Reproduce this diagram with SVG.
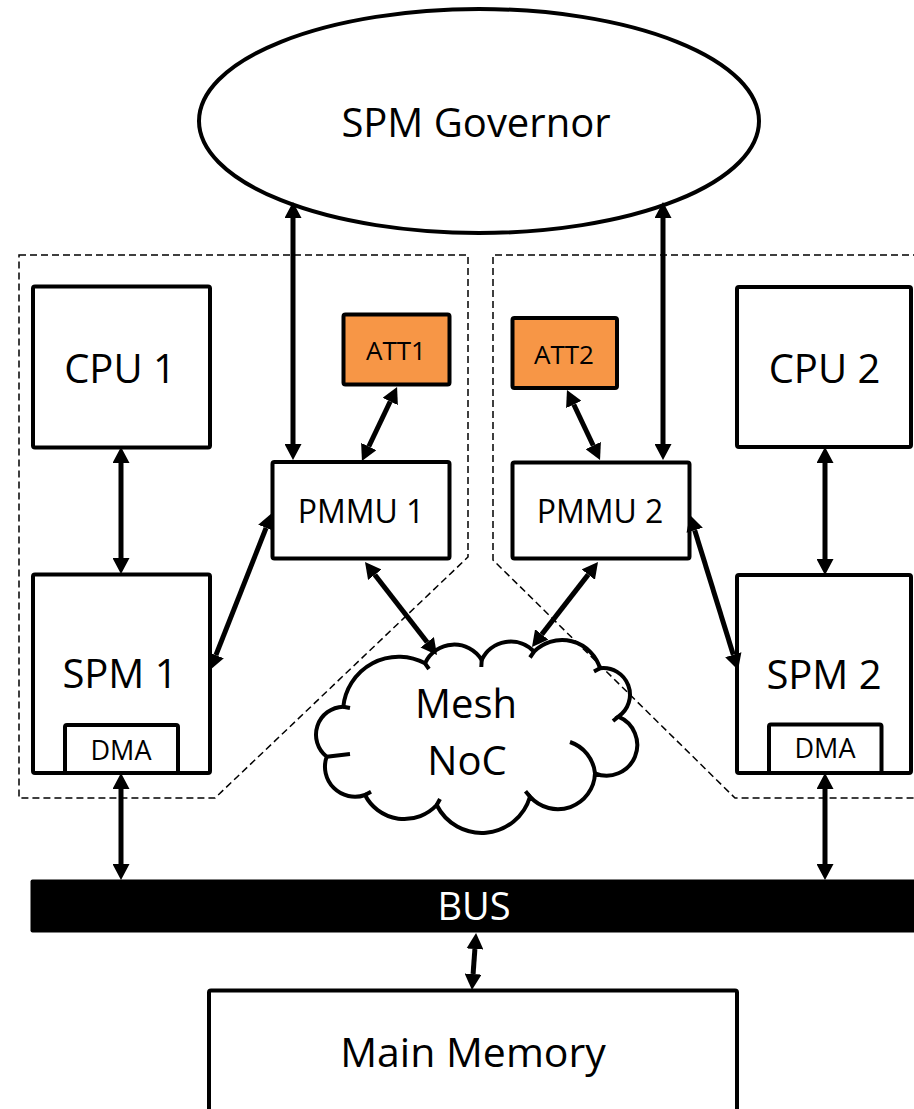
<svg xmlns="http://www.w3.org/2000/svg" width="914" height="1109" viewBox="0 0 914 1109">
<style>
.box{fill:#fff;stroke:#000;stroke-width:4;stroke-linejoin:round}
.att{fill:#F79646;stroke:#000;stroke-width:4;stroke-linejoin:round}
.dash{fill:none;stroke:#000;stroke-width:1.5;stroke-dasharray:7 4}
.t{font-family:"Open Sans","Liberation Sans",sans-serif;text-anchor:middle;fill:#000}
.arr{stroke:#000;stroke-width:5;fill:none;marker-start:url(#ah);marker-end:url(#ah)}
.cl{fill:none;stroke:#000;stroke-width:4;stroke-linecap:butt}
</style>
<defs>
<marker id="ah" viewBox="0 -8.5 16 17" refX="0" refY="0" markerWidth="16" markerHeight="17" markerUnits="userSpaceOnUse" orient="auto-start-reverse">
<path d="M0,-8.5 L16,0 L0,8.5 z" fill="#000"/>
</marker>
</defs>
<rect width="914" height="1109" fill="#fff"/>
<g id="regions">
<path class="dash" d="M19,255 L468,255 L468,557 L215,798 L19,798 Z"/>
<path class="dash" d="M920,255 L493,255 L493,560 L735,798 L920,798"/>
</g>
<g id="governor">
<ellipse cx="479" cy="121" rx="280" ry="112" fill="#fff" stroke="#000" stroke-width="4"/>
<text class="t" x="476" y="137" font-size="40">SPM Governor</text>
</g>
<g id="cpu1"><rect class="box" x="33" y="286.5" width="177" height="161" rx="2"/><text class="t" x="120" y="383" font-size="40">CPU 1</text></g>
<g id="cpu2"><rect class="box" x="737" y="287" width="174" height="160" rx="2"/><text class="t" x="824.5" y="383" font-size="40">CPU 2</text></g>
<g id="att1"><rect class="att" x="343.5" y="314.5" width="106" height="70" rx="2"/><text class="t" x="396" y="360" font-size="26">ATT1</text></g>
<g id="att2"><rect class="att" x="512.5" y="318" width="104.5" height="70" rx="2"/><text class="t" x="564" y="364" font-size="26">ATT2</text></g>
<g id="pmmu1"><rect class="box" x="272.5" y="462" width="177" height="96.5" rx="2"/><text class="t" x="361" y="523" font-size="32">PMMU 1</text></g>
<g id="pmmu2"><rect class="box" x="512.5" y="462.5" width="177" height="96" rx="2"/><text class="t" x="600" y="523" font-size="32">PMMU 2</text></g>
<g id="spm1"><rect class="box" x="33" y="574.5" width="177" height="198.5" rx="2"/><text class="t" x="120" y="688" font-size="40">SPM 1</text></g>
<g id="dma1"><rect class="box" x="65" y="725" width="113" height="48" rx="2"/><text class="t" x="121" y="760" font-size="27">DMA</text></g>
<g id="spm2"><rect class="box" x="737" y="575" width="174" height="198" rx="2"/><text class="t" x="824" y="689" font-size="40">SPM 2</text></g>
<g id="dma2"><rect class="box" x="769" y="724.5" width="112.5" height="48.5" rx="2"/><text class="t" x="825" y="758" font-size="27">DMA</text></g>
<g id="noc">
<path class="cl" d="M343.3,706.7 A55.7,55.7 0 0 1 425,663.3 A32.2,32.2 0 0 1 481.7,660 A32,32 0 0 1 534,651.7 A39.6,39.6 0 0 1 600,668.3 A26.6,26.6 0 0 1 618.3,716.7 A30.6,30.6 0 0 1 595,773.3 A37.2,37.2 0 0 1 530,796.7 A50.3,50.3 0 0 1 436.7,805 A44.2,44.2 0 0 1 365,795 A30,30 0 0 1 326.7,756.7 A28,28 0 0 1 343.3,706.7 Z"/>
<path class="cl" d="M570,742 A37,37 0 0 1 595,773.3"/>
<path class="cl" d="M343.3,706.7 L350,708 M425,663.3 L429,669 M481.7,660 L481.3,667 M534,651.7 L530,657.5 M600,668.3 L594,671.6 M618.3,716.7 L613,721 M530,796.7 L525.5,791.3 M436.7,805 L440,799 M365,795 L371,791.7 M326.7,756.7 L350,754"/>
<text class="t" x="466" y="718" font-size="40">Mesh</text>
<text class="t" x="467" y="775" font-size="40">NoC</text>
</g>
<g id="bus"><rect x="30.5" y="879.5" width="900" height="53" rx="2" fill="#000"/><text class="t" x="474" y="920" font-size="38" style="fill:#fff">BUS</text></g>
<g id="mainmem"><rect class="box" x="209" y="990.5" width="528" height="140" rx="2"/><text class="t" x="473" y="1067" font-size="41">Main Memory</text></g>
<g id="connectors">
<line class="arr" x1="293" y1="218" x2="293" y2="444"/>
<line class="arr" x1="663" y1="218" x2="663" y2="444"/>
<line class="arr" x1="390.2" y1="401.5" x2="368.8" y2="446.5"/>
<line class="arr" x1="573.8" y1="404.5" x2="593.2" y2="445.5"/>
<line class="arr" x1="121" y1="463" x2="121" y2="558"/>
<line class="arr" x1="825" y1="463" x2="825" y2="559"/>
<line class="arr" x1="266.1" y1="527.9" x2="215.9" y2="655.1"/>
<line class="arr" x1="694.7" y1="530.3" x2="733.3" y2="654.7"/>
<line class="arr" x1="374.8" y1="574.7" x2="427.2" y2="642.3"/>
<line class="arr" x1="588.2" y1="574.6" x2="541.8" y2="634.4"/>
<line class="arr" x1="121" y1="789" x2="121" y2="864"/>
<line class="arr" x1="825" y1="789" x2="825" y2="864"/>
<line class="arr" x1="474.9" y1="949" x2="473.1" y2="974"/>
</g>
</svg>
